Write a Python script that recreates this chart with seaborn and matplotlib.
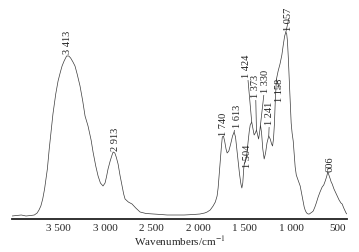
import matplotlib
matplotlib.use('Agg')
import matplotlib.pyplot as plt
import numpy as np
import pandas as pd
import seaborn as sns

# FTIR spectrum (wavenumber, relative absorbance)
wavenumber = [
    4000, 3950, 3900, 3850, 3800, 3760, 3730, 3710, 3690, 3670, 3650, 3620,
    3600, 3580, 3560, 3530, 3505, 3480, 3462, 3440, 3413, 3390, 3370, 3345,
    3323, 3300, 3269, 3240, 3215, 3183, 3150, 3129, 3100, 3075, 3050, 3022,
    3000, 2985, 2968, 2945, 2925, 2913, 2895, 2880, 2860, 2840, 2817, 2800,
    2785, 2750, 2710, 2670, 2624, 2560, 2484, 2400, 2333, 2250, 2150, 2050,
    1980, 1930, 1903, 1870, 1839, 1815, 1796, 1785, 1774, 1760, 1750, 1740,
    1728, 1715, 1700, 1688, 1670, 1650, 1630, 1613, 1598, 1585, 1570, 1555,
    1540, 1530, 1520, 1510, 1504, 1490, 1475, 1462, 1450, 1440, 1424, 1410,
    1398, 1385, 1373, 1360, 1350, 1340, 1330, 1318, 1305, 1290, 1275, 1260,
    1241, 1225, 1210, 1200, 1190, 1180, 1170, 1158, 1140, 1120, 1100, 1085,
    1070, 1057, 1048, 1040, 1030, 1020, 1010, 1000, 990, 978, 965, 957, 945,
    930, 915, 903, 890, 880, 870, 860, 850, 840, 828, 817, 805, 790, 775,
    763, 745, 730, 710, 690, 667, 650, 634, 620, 606, 595, 580, 570, 559,
    540, 520, 505, 485, 465, 452, 435, 420, 410, 400,
]
absorbance = [
    0.03, 0.035, 0.04, 0.03, 0.035, 0.04, 0.06, 0.09, 0.13, 0.20, 0.30, 0.50,
    0.70, 0.88, 1.05, 1.25, 1.38, 1.47, 1.53, 1.58, 1.63, 1.63, 1.61, 1.57,
    1.53, 1.45, 1.33, 1.18, 1.03, 0.93, 0.79, 0.67, 0.53, 0.43, 0.36, 0.33,
    0.36, 0.42, 0.50, 0.58, 0.64, 0.67, 0.66, 0.62, 0.55, 0.44, 0.33, 0.25,
    0.20, 0.17, 0.15, 0.11, 0.07, 0.055, 0.05, 0.045, 0.04, 0.04, 0.04, 0.045,
    0.05, 0.06, 0.07, 0.09, 0.13, 0.17, 0.23, 0.31, 0.43, 0.60, 0.72, 0.82,
    0.83, 0.78, 0.70, 0.66, 0.68, 0.75, 0.83, 0.87, 0.82, 0.72, 0.58, 0.45,
    0.35, 0.31, 0.36, 0.50, 0.55, 0.58, 0.66, 0.78, 0.88, 0.94, 0.97, 0.90,
    0.84, 0.86, 0.89, 0.84, 0.80, 0.86, 0.94, 0.86, 0.70, 0.60, 0.66, 0.76,
    0.83, 0.80, 0.75, 0.73, 0.80, 0.95, 1.20, 1.40, 1.48, 1.55, 1.64, 1.74,
    1.83, 1.87, 1.85, 1.78, 1.60, 1.38, 1.16, 0.96, 0.86, 0.78, 0.62, 0.52,
    0.44, 0.40, 0.36, 0.33, 0.27, 0.22, 0.17, 0.12, 0.09, 0.07, 0.055, 0.05,
    0.05, 0.06, 0.07, 0.08, 0.12, 0.16, 0.22, 0.27, 0.32, 0.34, 0.38, 0.42,
    0.47, 0.44, 0.40, 0.37, 0.35, 0.30, 0.26, 0.23, 0.19, 0.16, 0.15, 0.11,
    0.08, 0.06, 0.05,
]

# peak labels
peak_wn = [3413, 2913, 1740, 1613, 1504, 1424, 1373, 1330, 1241, 1158, 1057, 606]
peak_text = ['3 413', '2 913', '1 740', '1 613', '1 504', '1 424', '1 373',
             '1 330', '1 241', '1 158', '1 057', '606']

xticks = [3500, 3000, 2500, 2000, 1500, 1000, 500]
xtick_labels = ['3 500', '3 000', '2 500', '2 000', '1 500', '1 000', '500']

# label offsets in pixels (dx, dy) and whether a leader line is drawn
LABEL_LAYOUT = {
    '3 413': (1, 3, False),
    '2 913': (2, 2, False),
    '1 740': (1, 2, False),
    '1 613': (3, 5, True),
    '1 504': (3, -3, True),
    '1 424': (-5, 45, True),
    '1 373': (-1, 33, True),
    '1 330': (5, 33, True),
    '1 241': (1, 12, True),
    '1 158': (3, -22, True),
    '1 057': (3, 2, True),
    '606': (2, 1, False),
}

LINE_COLOR = '#3a3a3a'


def main():
    sns.set_style('white')
    plt.rcParams['font.family'] = ['Liberation Serif', 'DejaVu Serif']
    plt.rcParams['mathtext.fontset'] = 'stix'

    df = pd.DataFrame({'wavenumber': wavenumber, 'absorbance': absorbance})

    fig = plt.figure(figsize=(3.59, 2.53), dpi=100)
    ax = fig.add_axes([12 / 359, 33 / 253, 335 / 359, 215 / 253])

    sns.lineplot(x='wavenumber', y='absorbance', data=df, ax=ax,
                 color=LINE_COLOR, linewidth=0.5)

    ax.set_xlim(4000, 400)
    ax.set_ylim(0, 2.15)
    ax.set_xticks(xticks)
    ax.set_xticklabels(xtick_labels, fontsize=8)
    ax.set_yticks([])
    ax.tick_params(axis='x', length=0, pad=3)
    ax.set_xlabel('Wavenumbers/cm$^{-1}$', fontsize=8, labelpad=1)
    ax.set_ylabel('')

    for side in ['top', 'right', 'left']:
        ax.spines[side].set_visible(False)
    ax.spines['bottom'].set_linewidth(1.3)
    ax.spines['bottom'].set_color('#222222')

    for wn, txt in zip(peak_wn, peak_text):
        y = float(np.interp(wn, wavenumber[::-1], absorbance[::-1]))
        dx, dy, leader = LABEL_LAYOUT[txt]
        arrow = dict(arrowstyle='-', lw=0.5, color=LINE_COLOR,
                     shrinkA=0, shrinkB=0) if leader else None
        ax.annotate(txt, xy=(wn, y), xytext=(dx, dy), textcoords='offset pixels',
                    rotation=90, ha='center', va='bottom', fontsize=7.5,
                    color='#222222', arrowprops=arrow)

    fig.savefig('out.png', dpi=100)
    plt.close(fig)


if __name__ == '__main__':
    main()
